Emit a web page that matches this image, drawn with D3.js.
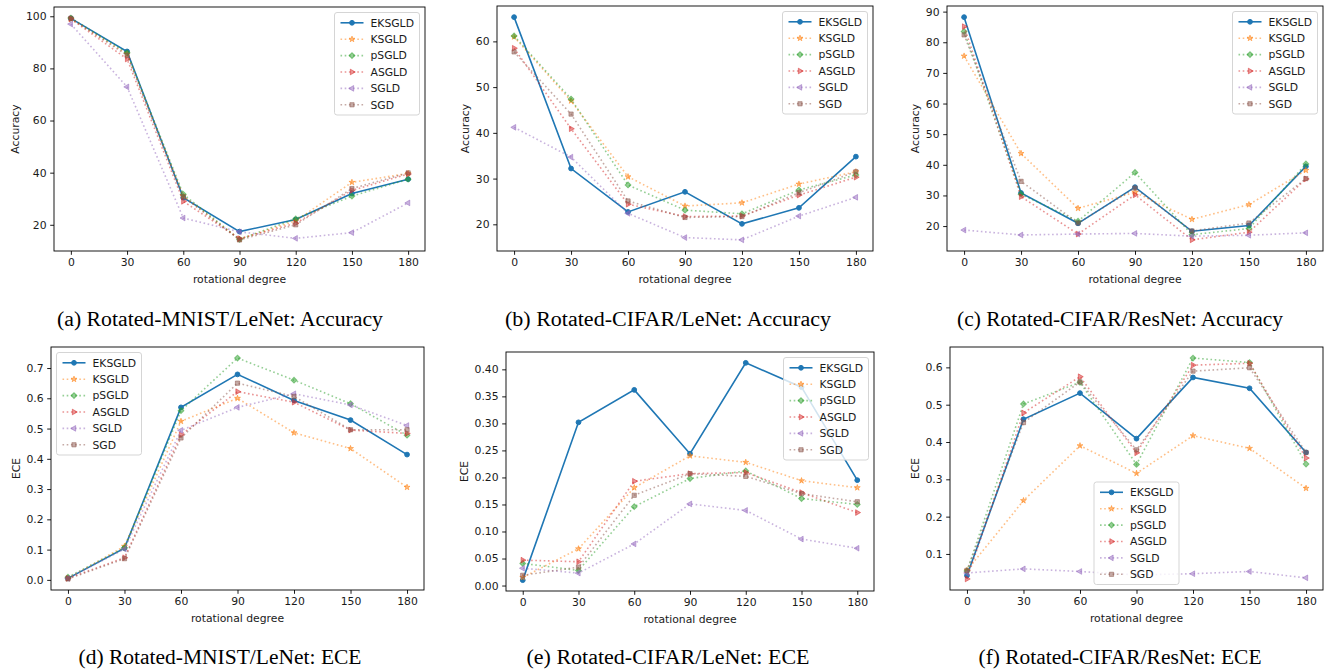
<!DOCTYPE html>
<html lang="en">
<head>
<meta charset="UTF-8">
<title>rotated accuracy and ece</title>
<script src="https://d3js.org/d3.v7.min.js"></script>
<style>
    body{ margin:0; background:#fff; }
    svg text{ font-family:"DejaVu Sans", sans-serif; fill:#1a1a1a; }
    .caption{ font-family:"Liberation Serif","Times New Roman",serif !important; font-size:20px; fill:#000 !important; }
</style>
</head>
<body>
<svg id="fig" width="1330" height="670"></svg>
<script>
    // x values + series names
    const degrees = [0, 30, 60, 90, 120, 150, 180];
    const methods = ["EKSGLD", "KSGLD", "pSGLD", "ASGLD", "SGLD", "SGD"];

    // one row per method, same order as methods
    const accMnist = [
        [99.2, 86.5, 30.4, 17.4, 22.0, 32.0, 37.5],
        [99.0, 85.5, 31.0, 14.5, 21.5, 36.3, 39.7],
        [99.3, 86.0, 31.7, 14.4, 22.3, 31.0, 37.5],
        [99.0, 83.6, 29.0, 14.7, 20.6, 33.2, 39.5],
        [97.0, 72.9, 22.6, 17.3, 14.8, 17.0, 28.4],
        [99.2, 85.0, 30.8, 14.2, 20.0, 33.9, 39.9]
    ];
    const accCifarLeNet = [
        [65.3, 32.2, 22.7, 27.1, 20.1, 23.6, 34.8],
        [61.0, 47.0, 30.4, 24.0, 24.7, 28.8, 31.5],
        [61.2, 47.4, 28.6, 23.1, 22.3, 27.5, 30.8],
        [58.5, 40.9, 24.4, 21.7, 21.8, 26.4, 30.3],
        [41.2, 34.7, 22.4, 17.1, 16.6, 21.8, 25.9],
        [57.7, 44.1, 25.1, 21.5, 21.7, 26.9, 31.5]
    ];
    const accCifarResNet = [
        [88.2, 30.8, 20.9, 32.7, 18.3, 20.2, 39.5],
        [75.5, 43.7, 25.8, 31.0, 22.2, 27.0, 38.2],
        [83.5, 30.4, 21.6, 37.5, 17.2, 19.2, 40.3],
        [85.1, 29.6, 17.4, 30.2, 15.5, 18.0, 35.4],
        [18.7, 17.1, 17.4, 17.6, 16.7, 17.0, 17.8],
        [82.4, 34.6, 21.0, 32.4, 18.4, 21.0, 35.5]
    ];
    const eceMnist = [
        [0.005, 0.105, 0.570, 0.679, 0.593, 0.528, 0.414],
        [0.005, 0.111, 0.524, 0.600, 0.486, 0.434, 0.306],
        [0.009, 0.106, 0.559, 0.733, 0.660, 0.582, 0.478],
        [0.005, 0.073, 0.479, 0.622, 0.587, 0.495, 0.484],
        [0.005, 0.102, 0.494, 0.570, 0.615, 0.578, 0.510],
        [0.003, 0.070, 0.469, 0.650, 0.606, 0.496, 0.496]
    ];
    const eceCifarLeNet = [
        [0.010, 0.302, 0.362, 0.244, 0.412, 0.367, 0.195],
        [0.015, 0.068, 0.181, 0.240, 0.228, 0.194, 0.181],
        [0.041, 0.028, 0.146, 0.198, 0.212, 0.161, 0.150],
        [0.047, 0.044, 0.193, 0.207, 0.209, 0.172, 0.135],
        [0.032, 0.023, 0.077, 0.151, 0.139, 0.086, 0.069],
        [0.019, 0.034, 0.167, 0.207, 0.202, 0.170, 0.155]
    ];
    const eceCifarResNet = [
        [0.042, 0.461, 0.531, 0.409, 0.573, 0.544, 0.372],
        [0.056, 0.243, 0.390, 0.316, 0.417, 0.383, 0.276],
        [0.054, 0.502, 0.560, 0.340, 0.625, 0.613, 0.341],
        [0.033, 0.478, 0.575, 0.371, 0.606, 0.611, 0.357],
        [0.049, 0.060, 0.053, 0.044, 0.047, 0.053, 0.036],
        [0.056, 0.452, 0.561, 0.379, 0.590, 0.599, 0.372]
    ];

    // y tick labels per panel
    const ticksAccMnist = [20, 40, 60, 80, 100];
    const ticksAccLeNet = [20, 30, 40, 50, 60];
    const ticksAccResNet = [20, 30, 40, 50, 60, 70, 80, 90];
    const ticksEceMnist = [0, 0.1, 0.2, 0.3, 0.4, 0.5, 0.6, 0.7];
    const ticksEceLeNet = [0, 0.05, 0.1, 0.15, 0.2, 0.25, 0.3, 0.35, 0.4];
    const ticksEceResNet = [0.1, 0.2, 0.3, 0.4, 0.5, 0.6];

    const captions = [
        "(a)  Rotated-MNIST/LeNet: Accuracy",
        "(b)  Rotated-CIFAR/LeNet: Accuracy",
        "(c)  Rotated-CIFAR/ResNet: Accuracy",
        "(d)  Rotated-MNIST/LeNet: ECE",
        "(e)  Rotated-CIFAR/LeNet: ECE",
        "(f)  Rotated-CIFAR/ResNet: ECE"
    ];

    // styling (tab10 like matplotlib)
    const colors = ["#1f77b4", "#ff7f0e", "#2ca02c", "#d62728", "#9467bd", "#8c564b"];
    const shapes = [
        {type: d3.symbolCircle, size: 18, rot: 0},
        {type: d3.symbolStar, size: 11, rot: 0},
        {type: d3.symbolSquare, size: 17, rot: 45},
        {type: d3.symbolTriangle, size: 14, rot: 90},
        {type: d3.symbolTriangle, size: 14, rot: -90},
        {type: d3.symbolSquare, size: 18, rot: 0}
    ];
    const FS = 10.8;

    // panel boxes [left, top, right, bottom] in page px
    const panels = [
        {data: accMnist, ticks: ticksAccMnist, fmt: d3.format("d"), ylab: "Accuracy", box: [54, 7, 425, 251], leg: "ur"},
        {data: accCifarLeNet, ticks: ticksAccLeNet, fmt: d3.format("d"), ylab: "Accuracy", box: [497, 6, 873, 251], leg: "ur"},
        {data: accCifarResNet, ticks: ticksAccResNet, fmt: d3.format("d"), ylab: "Accuracy", box: [947, 6, 1323, 251], leg: "ur"},
        {data: eceMnist, ticks: ticksEceMnist, fmt: d3.format(".1f"), ylab: "ECE", box: [51, 347, 424, 590], leg: "ul"},
        {data: eceCifarLeNet, ticks: ticksEceLeNet, fmt: d3.format(".2f"), ylab: "ECE", box: [506, 352, 874, 591], leg: "ur"},
        {data: eceCifarResNet, ticks: ticksEceResNet, fmt: d3.format(".1f"), ylab: "ECE", box: [950, 347, 1323, 590], leg: "lc"}
    ];
    const capX = [220, 668, 1120];
    const capY = [326, 664];

    const svg = d3.select("#fig");

    function drawMarker(g, i, cx, cy, alpha) {
        const s = shapes[i];
        g.append("path")
            .attr("d", d3.symbol().type(s.type).size(s.size)())
            .attr("transform", `translate(${cx},${cy}) rotate(${s.rot})`)
            .attr("fill", colors[i])
            .attr("fill-opacity", alpha)
            .attr("stroke", colors[i])
            .attr("stroke-opacity", alpha)
            .attr("stroke-width", 1);
    }

    function lineStyle(sel, i) {
        sel.attr("fill", "none")
            .attr("stroke", colors[i])
            .attr("stroke-width", 1.6);
        if (i > 0) {
            sel.attr("stroke-dasharray", "1.6,2.6").attr("stroke-opacity", 0.5);
        }
    }

    panels.forEach(function (p, k) {
        const [l, t, r, b] = p.box;
        const w = r - l, h = b - t;
        const g = svg.append("g").attr("transform", `translate(${l},${t})`);

        const all = p.data.flat();
        const lo = d3.min(all), hi = d3.max(all), m = (hi - lo) * 0.05;
        const x = d3.scaleLinear().domain([-9, 189]).range([0, w]);
        const y = d3.scaleLinear().domain([lo - m, hi + m]).range([h, 0]);

        // axes
        const xa = g.append("g").attr("transform", `translate(0,${h})`)
            .call(d3.axisBottom(x).tickValues(degrees).tickSize(3.8).tickPadding(3.6));
        const ya = g.append("g")
            .call(d3.axisLeft(y).tickValues(p.ticks).tickFormat(p.fmt).tickSize(3.8).tickPadding(3.6));
        [xa, ya].forEach(function (a) {
            a.select(".domain").remove();
            a.selectAll("line").attr("stroke", "#000").attr("stroke-width", 0.9);
            a.selectAll("text").style("font-size", FS + "px").attr("fill", "#1a1a1a");
        });

        g.append("text")
            .attr("x", w / 2).attr("y", h + 32)
            .attr("text-anchor", "middle")
            .style("font-size", FS + "px")
            .text("rotational degree");

        const yb = ya.node().getBBox();
        g.append("text")
            .attr("transform", `translate(${yb.x - 6.5},${h / 2}) rotate(-90)`)
            .attr("text-anchor", "middle")
            .style("font-size", FS + "px")
            .text(p.ylab);

        // series
        const line = d3.line().x((d, j) => x(degrees[j])).y(d => y(d));
        p.data.forEach(function (vals, i) {
            const s = g.append("g");
            s.append("path").datum(vals).attr("d", line).call(lineStyle, i);
            vals.forEach(function (v, j) {
                drawMarker(s, i, x(degrees[j]), y(v), i === 0 ? 1 : 0.5);
            });
        });

        // frame
        g.append("rect").attr("width", w).attr("height", h)
            .attr("fill", "none").attr("stroke", "#000").attr("stroke-width", 0.9);

        // legend
        const lw = 85, lh = 102.5, pad = 5.5;
        let lx, ly;
        if (p.leg === "ur") { lx = w - pad - lw; ly = pad; }
        else if (p.leg === "ul") { lx = pad; ly = pad; }
        else { lx = (w - lw) / 2; ly = h - pad - lh; }
        const lg = g.append("g").attr("transform", `translate(${lx},${ly})`);
        lg.append("rect").attr("width", lw).attr("height", lh).attr("rx", 2.5)
            .attr("fill", "#fff").attr("fill-opacity", 0.8)
            .attr("stroke", "#d0d0d0").attr("stroke-width", 0.9);
        methods.forEach(function (name, i) {
            const cy = 10.3 + i * 16.4;
            lg.append("line").attr("x1", 6).attr("x2", 29).attr("y1", cy).attr("y2", cy).call(lineStyle, i);
            drawMarker(lg, i, 17.5, cy, i === 0 ? 1 : 0.5);
            lg.append("text").attr("x", 36).attr("y", cy).attr("dy", "0.36em")
                .style("font-size", FS + "px").text(name);
        });

        // caption
        svg.append("text").attr("class", "caption")
            .attr("x", capX[k % 3]).attr("y", capY[Math.floor(k / 3)])
            .attr("text-anchor", "middle")
            .attr("textLength", k < 3 ? 326 : 283).attr("lengthAdjust", "spacingAndGlyphs")
            .text(captions[k]);
    });
</script>
</body>
</html>
